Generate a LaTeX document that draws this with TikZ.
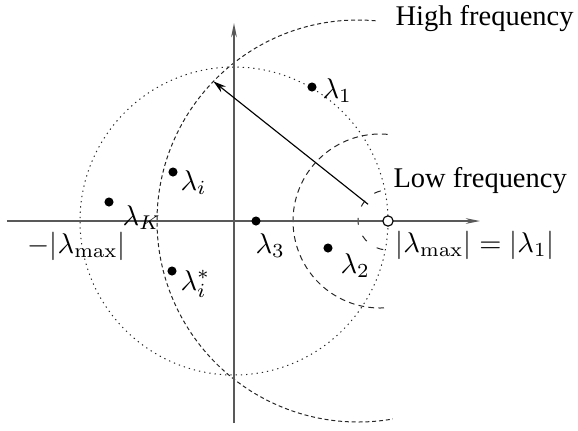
\documentclass[tikz,border=0pt]{standalone}
\usepackage{amsmath}
\usepackage[no-math]{fontspec}
\setmainfont{Liberation Serif}
\usepackage{tikz}
\usetikzlibrary{arrows.meta, positioning, calc}

\begin{document}
\begin{tikzpicture}[
        x=0.351pt, y=0.351pt,
        every node/.style={font=\normalsize},
        axis/.style={draw=black!65, line width=0.5pt, -{Stealth[length=5pt, width=2pt]}},
        ring/.style={draw=black!85, line width=0.35pt, dash pattern=on 0.45pt off 1.4pt},
        hfarc/.style={draw=black!85, line width=0.35pt, dash pattern=on 1.4pt off 1pt},
        lfarc/.style={draw=black!85, line width=0.35pt, dash pattern=on 2pt off 1.5pt},
        lfsmall/.style={draw=black!85, line width=0.35pt, dash pattern=on 2.4pt off 4.2pt},
        eig/.style={circle, fill=black, inner sep=0pt, minimum size=3.2pt},
        hollow/.style={circle, draw=black, fill=white, line width=0.4pt, inner sep=0pt, minimum size=3.6pt},
        lbl/.style={anchor=base west, inner sep=0pt},
        arr/.style={-{Stealth[length=4.5pt, width=2.6pt]}, line width=0.4pt, draw=black}
        ]

    \useasboundingbox (-234,-209) rectangle (344,221);

    % --- centres ---
        \coordinate (O) at (0,0);
        \coordinate (hc) at (124,0);
        \coordinate (lc) at (146,0);
        \coordinate (sc) at (154,1);

    % --- circles ---
        \draw[ring] (O) circle[radius=154];
        \draw[hfarc] ($(hc)+(85:201)$) arc[start angle=85, end angle=280, radius=201];
        \draw[lfarc] ($(lc)+(85:87)$) arc[start angle=85, end angle=275, radius=87];
        \draw[lfsmall] ($(sc)+(104:30)$) arc[start angle=104, end angle=265, radius=30];

    % --- axes ---
        \coordinate (xl) at (-227,0);
        \coordinate (xr) at (246,0);
        \coordinate (yb) at (0,-202);
        \coordinate (yt) at (0,198);
        \draw[axis] (xl) -- (xr);
        \draw[axis] (yb) -- (yt);

    % --- radius arrow ---
        \coordinate (tail) at ($(154,0)+(140:26)$);
        \coordinate (tip) at ($(hc)+(136:201)$);
        \draw[arr] (tail) -- (tip);

        \node[hollow] (lmax) at (154,0) {};

    % --- eigenvalues ---
        \node[eig] (l1) at (78,134) {};
        \node[eig] (li) at (-61,49) {};
        \node[eig] (lK) at (-125,19) {};
        \node[eig] (l3) at (22,0) {};
        \node[eig] (l2) at (94,-27) {};
        \node[eig] (lis) at (-62,-50) {};

        \node[lbl] (l1txt) at (88,123) {$\lambda_1$};
        \node[lbl] (litxt) at (-54,31) {$\lambda_i$};
        \node[lbl] (lKtxt) at (-112,-4) {$\lambda_K$};
        \node[lbl] (l3txt) at (21,-32) {$\lambda_3$};
        \node[lbl] (l2txt) at (106,-52) {$\lambda_2$};
        \node[lbl] (listxt) at (-54,-69) {$\lambda_i^*$};

    % --- axis labels and legends ---
        \node[lbl] (negmax) at (-207,-32) {$-|\lambda_{\max}|$};
        \node[lbl] (posmax) at (161,-31) {$|\lambda_{\max}| = |\lambda_1|$};
        \node[lbl] (hf) at (161,196) {High frequency};
        \node[lbl] (lf) at (159,34) {Low frequency};

    \end{tikzpicture}
\end{document}
